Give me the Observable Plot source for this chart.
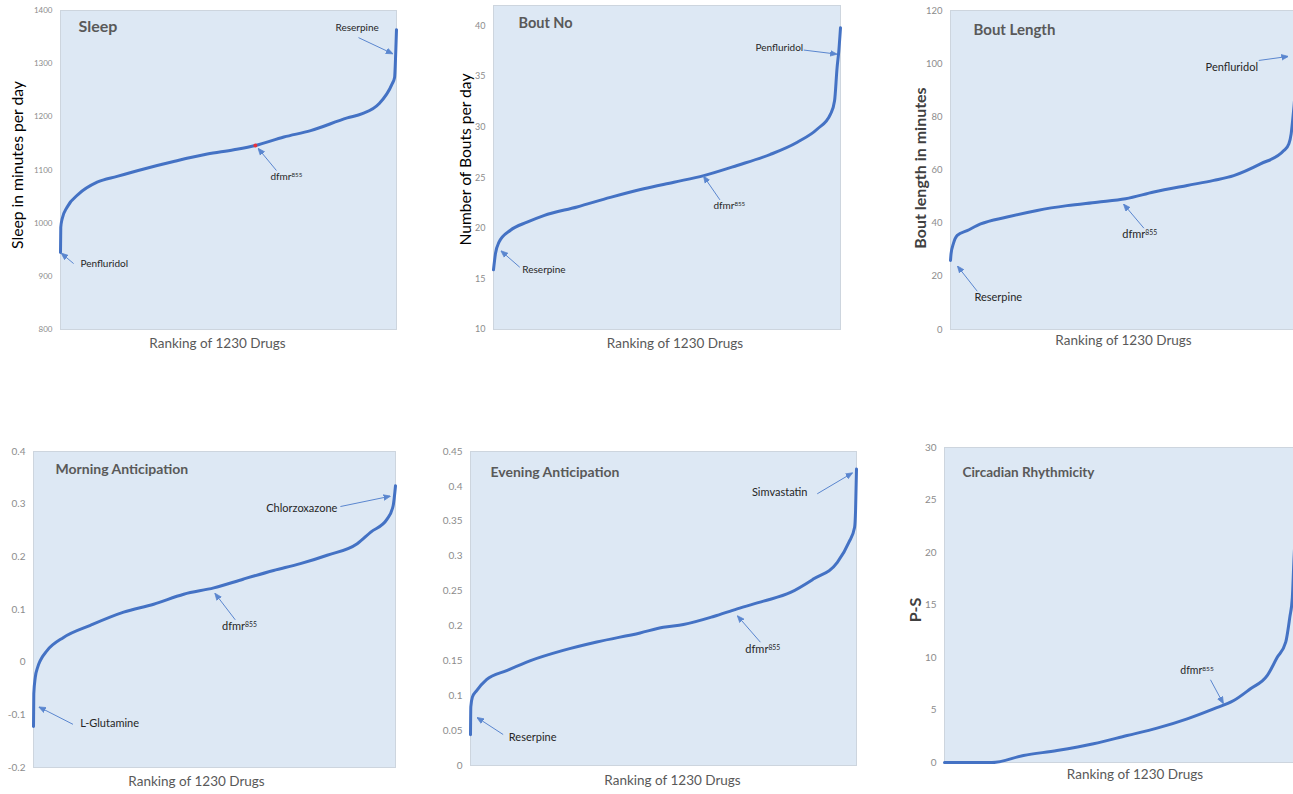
<!DOCTYPE html>
<html>
<head>
<meta charset="utf-8">
<script src="https://cdn.jsdelivr.net/npm/d3@7"></script>
<script src="https://cdn.jsdelivr.net/npm/@observablehq/plot@0.6"></script>
<style>
  html, body { margin: 0; padding: 0; background: #fff; }
  #page { position: relative; width: 1293px; height: 794px; overflow: hidden; }
  .panel { position: absolute; }
  .panel svg { display: block; }
</style>
</head>
<body>
<div id="page"></div>
<script>
// ---- Sleep (minutes per day), drugs ranked ----
const sleepRank    = [1, 2, 7, 25, 68, 135, 208, 306, 415, 538, 635, 714, 818, 916, 1050, 1105, 1165, 1214, 1223, 1227, 1230];
const sleepMinutes = [945, 992, 1008, 1030, 1055, 1077, 1088, 1102, 1116, 1130, 1138, 1146, 1162, 1174, 1198, 1206, 1224, 1262, 1274, 1318, 1364];
const sleepTicks   = [800, 900, 1000, 1100, 1200, 1300, 1400];
const sleepNotes      = ["Reserpine", "dfmr855", "Penfluridol"];
const sleepNoteRank   = [1007, 769, 74];
const sleepNoteValue  = [1368, 1088, 924];
const sleepFromRank   = [1091, 791, 49];
const sleepFromValue  = [1349, 1099, 924];
const sleepToRank     = [1215, 725, 5];
const sleepToValue    = [1319, 1140, 943];
const sleepDfmrRank    = [714];
const sleepDfmrMinutes = [1146];

// ---- Bout number per day ----
const boutNoRank   = [1, 8, 20, 61, 120, 179, 297, 415, 533, 640, 746, 864, 982, 1077, 1148, 1195, 1209, 1218, 1224, 1230];
const boutNoCount  = [15.9, 17.5, 18.6, 19.8, 20.6, 21.25, 22.1, 23.05, 23.9, 24.55, 25.2, 26.2, 27.3, 28.5, 29.8, 31.3, 32.6, 35.9, 37.5, 39.8];
const boutNoTicks  = [10, 15, 20, 25, 30, 35, 40];
const boutNoNotes     = ["Penfluridol", "dfmr855", "Reserpine"];
const boutNoNoteRank  = [929, 780, 103];
const boutNoNoteValue = [37.86, 22.24, 15.9];
const boutNoFromRank  = [1100, 803, 94];
const boutNoFromValue = [37.6, 22.8, 16.15];
const boutNoToRank    = [1216, 746, 29];
const boutNoToValue   = [37.2, 25.1, 17.73];

// ---- Bout length in minutes ----
const boutLenRank    = [1, 3, 11, 25, 60, 108, 202, 309, 415, 522, 623, 723, 842, 936, 1007, 1102, 1185, 1203, 1211, 1218, 1224, 1230];
const boutLenMinutes = [26, 28.5, 32.2, 35.4, 37.2, 39.7, 42.3, 44.8, 46.6, 47.9, 49.2, 51.7, 54.2, 56.1, 57.9, 62.3, 67.3, 69.9, 73.6, 80.5, 88, 102];
const boutLenTicks   = [0, 20, 40, 60, 80, 100, 120];
const boutLenNotes     = ["Penfluridol", "dfmr855", "Reserpine"];
const boutLenNoteRank  = [907, 611, 86];
const boutLenNoteValue = [98.7, 35.7, 11.9];
const boutLenFromRank  = [1096, 688, 96];
const boutLenFromValue = [101.2, 38.1, 14.4];
const boutLenToRank    = [1199, 617, 27];
const boutLenToValue   = [102.7, 47.0, 23.7];

// ---- Morning anticipation ----
const morningRank  = [1, 2, 7, 15, 24, 47, 103, 194, 307, 409, 511, 613, 715, 816, 907, 998, 1100, 1146, 1202, 1222, 1230];
const morningIndex = [-0.122, -0.060, -0.029, -0.010, 0.003, 0.022, 0.047, 0.070, 0.095, 0.110, 0.129, 0.141, 0.158, 0.174, 0.187, 0.203, 0.225, 0.247, 0.272, 0.297, 0.335];
const morningTicks = [-0.2, -0.1, 0, 0.1, 0.2, 0.3, 0.4];
const morningNotes     = ["Chlorzoxazone", "dfmr855", "L-Glutamine"];
const morningNoteRank  = [791, 641, 160];
const morningNoteValue = [0.291, 0.0677, -0.117];
const morningFromRank  = [1043, 686, 135];
const morningFromValue = [0.2955, 0.0804, -0.118];
const morningToRank    = [1211, 618, 21];
const morningToValue   = [0.315, 0.130, -0.0855];

// ---- Evening anticipation ----
const eveningRank  = [1, 2, 7, 20, 52, 116, 190, 296, 403, 541, 615, 679, 775, 850, 934, 1020, 1094, 1169, 1206, 1224, 1227, 1230];
const eveningIndex = [0.044, 0.084, 0.098, 0.107, 0.123, 0.136, 0.150, 0.165, 0.177, 0.190, 0.198, 0.202, 0.2135, 0.2245, 0.2355, 0.248, 0.2675, 0.291, 0.320, 0.3415, 0.365, 0.425];
const eveningTicks = [0, 0.05, 0.1, 0.15, 0.2, 0.25, 0.3, 0.35, 0.4, 0.45];
const eveningNotes     = ["Simvastatin", "dfmr855", "Reserpine"];
const eveningNoteRank  = [897, 876, 123];
const eveningNoteValue = [0.3917, 0.1662, 0.0406];
const eveningFromRank  = [1105, 924, 105];
const eveningFromValue = [0.3894, 0.1767, 0.0444];
const eveningToRank    = [1216, 852, 23];
const eveningToValue   = [0.419, 0.214, 0.0684];

// ---- Circadian rhythmicity (P-S) ----
const circadianRank = [1, 166, 276, 393, 520, 637, 741, 846, 938, 1008, 1065, 1125, 1159, 1189, 1203, 1212, 1217, 1224, 1230];
const circadianPS   = [0, 0, 0.67, 1.14, 1.78, 2.57, 3.27, 4.16, 5.11, 5.9, 7.0, 8.29, 10.0, 11.46, 13.8, 15.7, 18.9, 23, 28];
const circadianTicks = [0, 5, 10, 15, 20, 25, 30];
const circadianNotes     = ["dfmr855"];
const circadianNoteRank  = [822];
const circadianNoteValue = [8.76];
const circadianFromRank  = [927];
const circadianFromValue = [7.88];
const circadianToRank    = [971];
const circadianToValue   = [5.65];

const xTitle = "Ranking of 1230 Drugs";
const drugCount = 1230;

// ---- styling ----
const FONT = "Lato, 'Open Sans', sans-serif";
const BG = "#dde8f4";
const FRAME = "#cdd5de";
const BLUE = "#4472c4";
const ARROW = "#5a86cf";
const TICK = "#8c8c8c";
const GREY = "#595959";
const NOTE = "#262626";
const SVGNS = "http://www.w3.org/2000/svg";

// filled triangular arrowhead for the callout lines
function triangleHead(color, context) {
  const doc = (context && context.document) || document;
  const marker = doc.createElementNS(SVGNS, "marker");
  marker.setAttribute("viewBox", "0 -5 10 10");
  marker.setAttribute("markerWidth", 7);
  marker.setAttribute("markerHeight", 7);
  marker.setAttribute("refX", 9);
  marker.setAttribute("refY", 0);
  marker.setAttribute("orient", "auto");
  marker.setAttribute("markerUnits", "userSpaceOnUse");
  const path = doc.createElementNS(SVGNS, "path");
  path.setAttribute("d", "M0,-4L10,0L0,4Z");
  path.setAttribute("fill", color);
  marker.appendChild(path);
  return marker;
}

const decimalFormat = d => String(+d.toFixed(2));

function panel(p) {
  const curve = p.rank.map((r, i) => ({rank: r, value: p.value[i]}));
  const notes = p.notes.map((t, i) => ({text: t, rank: p.noteRank[i], value: p.noteValue[i]}));
  const arrows = p.fromRank.map((r, i) => ({x1: r, y1: p.fromValue[i], x2: p.toRank[i], y2: p.toValue[i]}));
  const marks = [
    Plot.frame({fill: BG, stroke: FRAME, strokeWidth: 1}),
    Plot.axisY({ticks: p.ticks, tickSize: 0, tickPadding: 8, tickFormat: p.format || (d => String(d)),
                color: TICK, fontSize: p.tickFont, label: null}),
    Plot.line(curve, {x: "rank", y: "value", stroke: BLUE, strokeWidth: 3, curve: "monotone-x"}),
    Plot.link(arrows, {x1: "x1", y1: "y1", x2: "x2", y2: "y2", stroke: ARROW, strokeWidth: 1, markerEnd: triangleHead}),
    Plot.text(notes, {x: "rank", y: "value", text: "text", textAnchor: "start", lineAnchor: "middle",
                      fill: NOTE, fontSize: p.noteFont}),
    Plot.text([p.title], {text: d => d, frameAnchor: "top-left", textAnchor: "start", lineAnchor: "middle",
                          dx: p.titleDx, dy: p.titleDy, fontWeight: "bold", fontSize: p.titleFont, fill: GREY}),
    Plot.text([xTitle], {text: d => d, frameAnchor: "bottom", textAnchor: "middle", lineAnchor: "middle",
                         dx: p.xDx, dy: p.xDy, fontSize: 13.5, fill: GREY})
  ];
  if (p.yTitle) {
    marks.push(Plot.text([p.yTitle], {text: d => d, frameAnchor: "left", rotate: -90, textAnchor: "middle",
      lineAnchor: "middle", dx: p.yDx, dy: p.yDy, fontSize: p.yFont, fontWeight: p.yBold ? "bold" : "normal",
      fill: p.yBold ? "#404040" : "#000"}));
  }
  if (p.dot) {
    marks.push(Plot.dot(p.dot.rank.map((r, i) => ({rank: r, value: p.dot.value[i]})),
      {x: "rank", y: "value", r: 2, fill: "#e8323c", stroke: "none"}));
  }
  const chart = Plot.plot({
    width: p.w, height: p.h,
    marginLeft: p.ml, marginRight: p.mr, marginTop: p.mt, marginBottom: p.mb,
    style: {fontFamily: FONT, background: "transparent", maxWidth: "none", overflow: "visible"},
    x: {domain: [1, drugCount], axis: null},
    y: {domain: p.domain},
    marks
  });
  // superscript allele number in "dfmr855"
  chart.querySelectorAll("text").forEach(t => {
    if (t.textContent === "dfmr855") {
      t.textContent = "dfmr";
      const sup = document.createElementNS(SVGNS, "tspan");
      sup.setAttribute("dy", "-0.45em");
      sup.setAttribute("font-size", "0.62em");
      sup.textContent = "855";
      t.appendChild(sup);
    }
  });
  const div = document.createElement("div");
  div.className = "panel";
  div.style.left = p.left + "px";
  div.style.top = p.top + "px";
  div.style.width = p.w + "px";
  div.style.height = p.h + "px";
  div.appendChild(chart);
  document.getElementById("page").appendChild(div);
}

panel({
  title: "Sleep", titleFont: 16, titleDx: 18, titleDy: 16,
  rank: sleepRank, value: sleepMinutes, domain: [800, 1400], ticks: sleepTicks, tickFont: 8,
  notes: sleepNotes, noteRank: sleepNoteRank, noteValue: sleepNoteValue,
  fromRank: sleepFromRank, fromValue: sleepFromValue, toRank: sleepToRank, toValue: sleepToValue,
  noteFont: 10, dot: {rank: sleepDfmrRank, value: sleepDfmrMinutes},
  yTitle: "Sleep in minutes per day", yFont: 15.7, yDx: -43, yDy: -5,
  xDx: -11, xDy: 14,
  left: 0, top: 0, w: 410, h: 360, ml: 60, mr: 14, mt: 10, mb: 31
});

panel({
  title: "Bout No", titleFont: 14.5, titleDx: 25, titleDy: 18,
  rank: boutNoRank, value: boutNoCount, domain: [10, 42], ticks: boutNoTicks, tickFont: 9,
  notes: boutNoNotes, noteRank: boutNoNoteRank, noteValue: boutNoNoteValue,
  fromRank: boutNoFromRank, fromValue: boutNoFromValue, toRank: boutNoToRank, toValue: boutNoToValue,
  noteFont: 10,
  yTitle: "Number of Bouts per day", yFont: 15.6, yDx: -28, yDy: -8,
  xDx: 8, xDy: 14,
  left: 430, top: 0, w: 430, h: 360, ml: 63, mr: 20, mt: 5, mb: 31
});

panel({
  title: "Bout Length", titleFont: 15, titleDx: 23, titleDy: 20,
  rank: boutLenRank, value: boutLenMinutes, domain: [0, 120], ticks: boutLenTicks, tickFont: 9.5,
  notes: boutLenNotes, noteRank: boutLenNoteRank, noteValue: boutLenNoteValue,
  fromRank: boutLenFromRank, fromValue: boutLenFromValue, toRank: boutLenToRank, toValue: boutLenToValue,
  noteFont: 11,
  yTitle: "Bout length in minutes", yFont: 16, yBold: true, yDx: -30, yDy: -2,
  xDx: 0, xDy: 11,
  left: 880, top: 0, w: 420, h: 360, ml: 70, mr: 4, mt: 10, mb: 31
});

panel({
  title: "Morning Anticipation", titleFont: 14, titleDx: 22, titleDy: 18,
  rank: morningRank, value: morningIndex, domain: [-0.2, 0.4], ticks: morningTicks, tickFont: 10,
  format: decimalFormat,
  notes: morningNotes, noteRank: morningNoteRank, noteValue: morningNoteValue,
  fromRank: morningFromRank, fromValue: morningFromValue, toRank: morningToRank, toValue: morningToValue,
  noteFont: 11,
  xDx: -18, xDy: 14,
  left: 0, top: 430, w: 410, h: 364, ml: 33, mr: 15, mt: 21, mb: 27
});

panel({
  title: "Evening Anticipation", titleFont: 14, titleDx: 20, titleDy: 21,
  rank: eveningRank, value: eveningIndex, domain: [0, 0.45], ticks: eveningTicks, tickFont: 10,
  format: decimalFormat,
  notes: eveningNotes, noteRank: eveningNoteRank, noteValue: eveningNoteValue,
  fromRank: eveningFromRank, fromValue: eveningFromValue, toRank: eveningToRank, toValue: eveningToValue,
  noteFont: 11,
  xDx: 9, xDy: 15,
  left: 430, top: 430, w: 440, h: 364, ml: 40, mr: 14, mt: 21, mb: 29
});

panel({
  title: "Circadian Rhythmicity", titleFont: 13.5, titleDx: 18, titleDy: 25,
  rank: circadianRank, value: circadianPS, domain: [0, 30], ticks: circadianTicks, tickFont: 10,
  notes: circadianNotes, noteRank: circadianNoteRank, noteValue: circadianNoteValue,
  fromRank: circadianFromRank, fromValue: circadianFromValue, toRank: circadianToRank, toValue: circadianToValue,
  noteFont: 10.5,
  yTitle: "P-S", yFont: 16, yBold: true, yDx: -29, yDy: 5,
  xDx: 14, xDy: 12,
  left: 880, top: 430, w: 420, h: 364, ml: 64, mr: 3, mt: 17, mb: 32
});
</script>
</body>
</html>
